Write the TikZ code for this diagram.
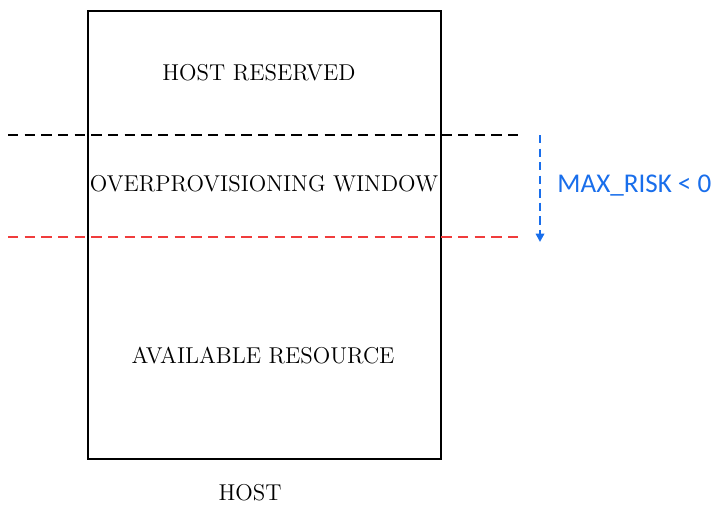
\documentclass[tikz,border=0pt]{standalone}
\usepackage{fontspec}
\newfontfamily\risksf{Carlito}
\usetikzlibrary{arrows.meta,positioning}
\definecolor{riskblue}{RGB}{25,110,235}
\definecolor{limred}{RGB}{240,60,60}
\tikzset{%
   hostbox/.style={draw=black, line width=1pt},
   limit/.style={line width=1pt, dash pattern=on 5pt off 3pt},
   region/.style={inner sep=0pt, font=\fontsize{11}{13}\selectfont},
}
\begin{document}
\begin{tikzpicture}[x=0.48pt, y=-0.48pt]
         \useasboundingbox (0,0) rectangle (716,507);
         \node[hostbox, minimum width=353*0.48pt, minimum height=448*0.48pt, anchor=north west] (host) at (87,10) {};
         \node[region] (reserved) at (259,73) {HOST RESERVED};
         \node[region] (window) at (264,184) {OVERPROVISIONING WINDOW};
         \node[region] (avail) at (263,356) {AVAILABLE RESOURCE};
         \node[region] (hostname) at (250,493) {HOST};
         \coordinate (top l) at (8,135);
         \coordinate (top r) at (518,135);
         \coordinate (low l) at (8,237);
         \coordinate (low r) at (518,237);
         \draw[limit, black] (top l) -- (top r);
         \draw[limit, limred] (low l) -- (low r);
         \coordinate (risk a) at (540,135);
         \coordinate (risk b) at (540,242);
         \draw[riskblue, line width=1pt, dash pattern=on 4pt off 2.5pt, -{Triangle[width=4pt,length=4pt]}] (risk a) -- (risk b);
         \node[anchor=west, inner sep=0pt, text=riskblue, font=\risksf\fontsize{13}{15}\selectfont] (risk) at (557,186) {MAX\_RISK~<~0};
      \end{tikzpicture}
\end{document}
